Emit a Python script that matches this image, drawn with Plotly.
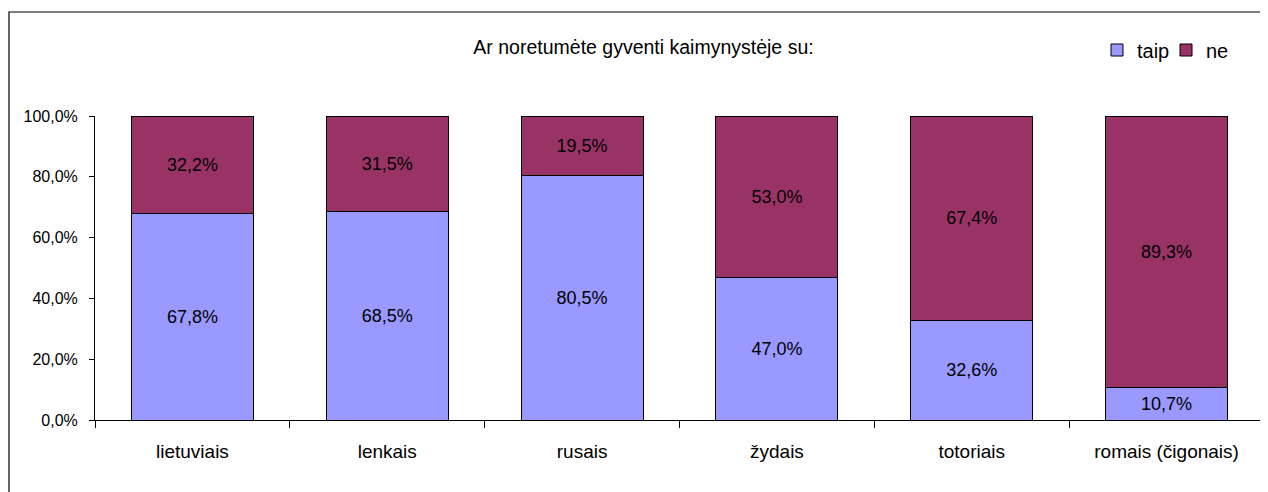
import plotly.graph_objects as go

categories = ["lietuviais", "lenkais", "rusais", "žydais", "totoriais", "romais (čigonais)"]
taip = [67.8, 68.5, 80.5, 47.0, 32.6, 10.7]
ne = [32.2, 31.5, 19.5, 53.0, 67.4, 89.3]
y_ticks = [0, 20, 40, 60, 80, 100]
y_tick_labels = ["0,0%", "20,0%", "40,0%", "60,0%", "80,0%", "100,0%"]
title_text = "Ar noretumėte gyventi kaimynystėje su:"

FONT = "Liberation Sans, Arial, sans-serif"

OFF = 8  # page body margin
W, H = 1260, 484
L, T = 95 - OFF, 116 - OFF
R = W - (1264 - OFF)
B = H - (420 - OFF)
pw, ph = W - L - R, H - T - B

fig = go.Figure()
fig.add_trace(go.Bar(
    x=categories, y=taip, name="taip",
    marker=dict(color="#9999FF", line=dict(color="black", width=1)),
    text=[f"{v:.1f}%".replace(".", ",") for v in taip],
    textposition="inside", insidetextanchor="middle",
    textfont=dict(family=FONT, size=18, color="black"),
))
fig.add_trace(go.Bar(
    x=categories, y=ne, name="ne",
    marker=dict(color="#993366", line=dict(color="black", width=1)),
    text=[f"{v:.1f}%".replace(".", ",") for v in ne],
    textposition="inside", insidetextanchor="middle",
    textfont=dict(family=FONT, size=18, color="black"),
))

fig.update_layout(
    barmode="stack",
    bargap=0.374,
    width=W, height=H,
    margin=dict(l=L, r=R, t=T, b=B),
    paper_bgcolor="white", plot_bgcolor="white",
    font=dict(family=FONT, color="black", size=16),
    title=dict(text=title_text, xref="container", yref="container",
               x=(643.5 - OFF) / W, xanchor="center", y=1 - (47 - OFF) / H, yanchor="middle",
               font=dict(family=FONT, size=19.5, color="black")),
    legend=dict(orientation="h", x=(1097 - OFF - L) / pw, xanchor="left",
                y=(ph + T - (50 - OFF)) / ph, yanchor="middle",
                font=dict(family=FONT, size=20, color="black"),
                entrywidth=24, entrywidthmode="pixels",
                bgcolor="rgba(0,0,0,0)", itemclick=False, traceorder="normal"),
    showlegend=True,
    xaxis=dict(showline=True, linecolor="black", linewidth=1,
               ticks="outside", tickson="boundaries", ticklen=7, tickcolor="black",
               showgrid=False, tickfont=dict(family=FONT, size=19, color="black"),
               ticklabelstandoff=14, fixedrange=True),
    yaxis=dict(range=[0, 100], showline=True, linecolor="black", linewidth=1,
               ticks="outside", ticklen=5, tickcolor="black",
               tickvals=y_ticks, ticktext=y_tick_labels,
               showgrid=False, zeroline=False,
               tickfont=dict(family=FONT, size=16, color="black"),
               ticklabelstandoff=8, fixedrange=True),
)

# outer chart frame
fig.add_shape(type="rect", xref="paper", yref="paper",
              x0=(9 - OFF - L) / pw, x1=(W + 20 - L) / pw,
              y0=-(B + 20) / ph, y1=(ph + T - (12 - OFF)) / ph,
              line=dict(color="black", width=1.2), fillcolor="rgba(0,0,0,0)", layer="below")

fig.write_html("out.html")
